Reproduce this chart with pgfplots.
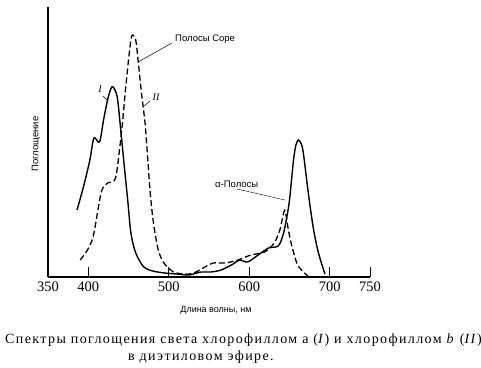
\documentclass[border=0pt]{standalone}
\usepackage{fontspec}
\setmainfont{Liberation Serif}
\newfontfamily\sansf{Liberation Sans}
\newfontfamily\capfont{Liberation Serif}[LetterSpace=10]
\usepackage{pgfplots}
\pgfplotsset{compat=1.18}
\pgfplotstableread{
nm val
386 67
394 90
402 117
407 139
414 135
419 157
424 177
428 188
431 190
436 180
440 150
444 117
449 77
453 44
459 24
469 10
480 6
495 4
510 3
525 2
540 5
552 5
565 7
580 13
588 17
598 15
611 22
624 29
636 31
642 42
646 57
650 77
655 117
658 132
661 137
664 134
667 125
674 80
680 47
686 24
694 3
}\curveI
\pgfplotstableread{
nm val
390 17
399 27
406 40
412 67
417 87
424 94
430 95
434 99
437 115
442 150
446 185
450 217
453 237
455 242
459 237
462 216
466 185
469 165
471 150
474 117
477 84
481 54
487 27
494 14
506 5
520 3
531 4
545 10
555 14
570 14
586 17
602 22
619 25
631 34
638 47
643 65
645 65
648 50
652 34
659 14
665 7
674 0
}\curveII
\begin{document}
\begin{tikzpicture}[x=1pt,y=1pt]
\path[use as bounding box] (0,0) rectangle (481,367);
\begin{axis}[
  at={(48pt,90pt)}, anchor=south west,
  width=322pt, height=270pt, scale only axis,
  xmin=350, xmax=750, ymin=0, ymax=270,
  axis x line=bottom, axis y line=left,
  axis line style={-, line width=1.1pt},
  xtick={350,400,500,600,700,750},
  ytick=\empty,
  tick align=inside, major tick length=10pt,
  tick style={line width=0.8pt, black},
  xticklabel style={font=\fontsize{14.5}{16}\selectfont, yshift=-1pt},
  /pgf/number format/assume math mode=true,
  /pgf/number format/set thousands separator={},
  clip=false,
]
\addplot[black, line width=1.4pt, smooth, tension=0.5] table[x=nm,y=val] {\curveI};
\addplot[black, line width=1.3pt, dash pattern=on 6pt off 3pt, smooth, tension=0.5] table[x=nm,y=val] {\curveII};
\end{axis}
% annotations in pixel coordinates (x, 367-y)
\node[font=\sansf\fontsize{9.5}{11}\selectfont, rotate=90] at (36,223) {Поглощение};
\node[font=\sansf\fontsize{9}{11}\selectfont] at (216,57) {Длина волны, нм};
\node[font=\itshape\fontsize{10}{12}\selectfont] at (100,278) {I};
\draw[line width=0.5pt] (103,271) -- (108,266);
\node[font=\itshape\fontsize{10}{12}\selectfont] at (156,270) {II};
\draw[line width=0.5pt] (150,266) -- (144,261);
\node[font=\sansf\fontsize{9.5}{11}\selectfont, anchor=west, inner sep=0pt] at (175,328) {Полосы Соре};
\draw[line width=0.5pt] (172,324) -- (138,305);
\node[font=\sansf\fontsize{9.5}{11}\selectfont, anchor=west, inner sep=0pt] at (215,183) {α-Полосы};
\draw[line width=0.4pt] (237,178) -- (285,167);
\node[font=\capfont\fontsize{14}{16}\selectfont, anchor=west, inner sep=0pt] at (5,27) {Спектры поглощения света хлорофиллом а (\textit{I}) и хлорофиллом \textit{b} (\textit{II})};
\node[font=\capfont\fontsize{14}{16}\selectfont, anchor=west, inner sep=0pt] at (128,10) {в диэтиловом эфире.};
\end{tikzpicture}
\end{document}
